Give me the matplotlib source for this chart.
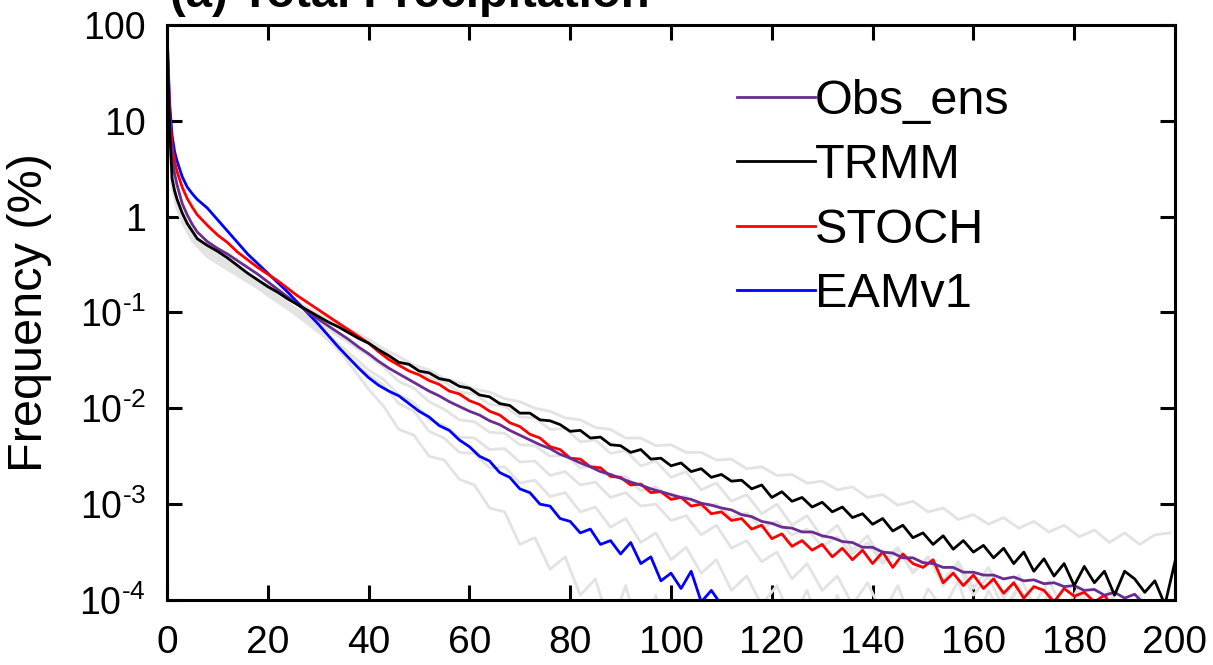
import numpy as np
import matplotlib
matplotlib.use("Agg")
import matplotlib.pyplot as plt
from matplotlib.ticker import FixedLocator, NullLocator

# ---------------- data (log10 of frequency in %) ----------------
# precipitation bins (mm/day)
bin_head = [0, 0.5, 1, 1.5, 2, 3, 4, 5, 6, 8, 10, 12, 14, 16, 18, 20, 22, 24,
            26, 28, 30, 32, 34, 36, 38, 40]
bin_tail = np.arange(42, 201, 2)

trmm_head = [1.85, 0.95, 0.40, 0.27, 0.18, 0.04, -0.07, -0.15, -0.23, -0.30,
             -0.36, -0.43, -0.51, -0.59, -0.66, -0.73, -0.79, -0.86, -0.92,
             -0.98, -1.04, -1.10, -1.15, -1.21, -1.27, -1.32]
trmm_tail = [-1.39, -1.45, -1.52, -1.54, -1.61, -1.63, -1.69, -1.71, -1.77, -1.79,
             -1.86, -1.88, -1.95, -1.97, -2.05, -2.05, -2.12, -2.13, -2.17, -2.24,
             -2.23, -2.31, -2.30, -2.38, -2.39, -2.46, -2.43, -2.53, -2.52, -2.60,
             -2.57, -2.66, -2.63, -2.72, -2.69, -2.76, -2.75, -2.84, -2.80, -2.93,
             -2.87, -2.97, -2.93, -3.03, -2.98, -3.08, -3.03, -3.14, -3.10, -3.21,
             -3.15, -3.28, -3.22, -3.35, -3.30, -3.42, -3.33, -3.47, -3.38, -3.50,
             -3.43, -3.56, -3.46, -3.62, -3.50, -3.70, -3.57, -3.75, -3.62, -3.85,
             -3.65, -3.82, -3.70, -3.95, -3.70, -3.78, -3.92, -3.80, -4.05, -3.60]

stoch_head = [1.95, 1.10, 0.75, 0.58, 0.47, 0.31, 0.19, 0.10, 0.02, -0.09,
              -0.19, -0.27, -0.37, -0.45, -0.53, -0.60, -0.67, -0.75, -0.83,
              -0.90, -0.97, -1.04, -1.11, -1.18, -1.25, -1.32]
stoch_tail = [-1.41, -1.49, -1.55, -1.61, -1.65, -1.71, -1.75, -1.82, -1.85, -1.92,
              -1.96, -2.03, -2.07, -2.15, -2.19, -2.27, -2.31, -2.40, -2.43, -2.52,
              -2.53, -2.61, -2.62, -2.71, -2.72, -2.80, -2.79, -2.88, -2.87, -2.95,
              -2.93, -3.02, -3.00, -3.10, -3.08, -3.17, -3.15, -3.26, -3.22, -3.36,
              -3.31, -3.44, -3.38, -3.48, -3.42, -3.55, -3.46, -3.58, -3.48, -3.62,
              -3.50, -3.66, -3.52, -3.62, -3.66, -3.58, -3.82, -3.72, -3.85, -3.74,
              -3.88, -3.78, -3.93, -3.82, -3.98, -3.86, -3.90, -4.02, -3.88, -3.96,
              -3.92, -4.02, -3.95, -4.10, -4.40]

obs_head = [1.85, 1.00, 0.62, 0.45, 0.33, 0.14, 0.02, -0.08, -0.16, -0.26,
            -0.33, -0.39, -0.46, -0.53, -0.60, -0.68, -0.76, -0.84, -0.92,
            -1.00, -1.07, -1.14, -1.21, -1.28, -1.36, -1.43]
obs_tail = [-1.51, -1.58, -1.64, -1.70, -1.76, -1.82, -1.87, -1.93, -1.98, -2.03,
            -2.07, -2.13, -2.17, -2.23, -2.28, -2.33, -2.38, -2.42, -2.48, -2.52,
            -2.57, -2.61, -2.66, -2.69, -2.73, -2.77, -2.80, -2.84, -2.87, -2.90,
            -2.93, -2.95, -2.99, -3.01, -3.04, -3.06, -3.11, -3.13, -3.18, -3.20,
            -3.24, -3.25, -3.29, -3.29, -3.33, -3.35, -3.39, -3.40, -3.45, -3.45,
            -3.50, -3.51, -3.56, -3.56, -3.61, -3.62, -3.66, -3.66, -3.71, -3.71,
            -3.74, -3.74, -3.78, -3.76, -3.80, -3.79, -3.83, -3.82, -3.86, -3.85,
            -3.90, -3.89, -3.95, -3.92, -3.98, -3.94, -4.05, -4.10]

eam_head = [1.95, 1.20, 0.85, 0.68, 0.58, 0.42, 0.31, 0.24, 0.18, 0.09,
            -0.03, -0.15, -0.27, -0.39, -0.49, -0.59, -0.69, -0.79, -0.90,
            -1.01, -1.12, -1.24, -1.36, -1.47, -1.58, -1.68]
eam_tail = [-1.76, -1.82, -1.87, -1.95, -2.03, -2.09, -2.18, -2.23, -2.33, -2.40,
            -2.50, -2.55, -2.67, -2.72, -2.84, -2.88, -3.00, -3.02, -3.15, -3.18,
            -3.30, -3.26, -3.42, -3.38, -3.52, -3.40, -3.62, -3.55, -3.80, -3.72,
            -3.88, -3.70, -4.02, -3.90, -4.05, -4.30]

# individual observational datasets (grey)
grey_bin_head = [0, 1, 2, 3, 5, 8, 12, 16, 20, 25, 30, 35, 40]
grey_bin_tail = np.arange(43, 200, 3)

grey1_head = [1.80, 0.38, 0.14, 0.00, -0.19, -0.34, -0.47, -0.61, -0.73, -0.87, -1.01, -1.14, -1.28]
grey1_tail = [-1.38, -1.46, -1.55, -1.60, -1.69, -1.73, -1.80, -1.83, -1.90, -1.93,
              -2.00, -2.03, -2.10, -2.12, -2.20, -2.22, -2.31, -2.31, -2.39, -2.38,
              -2.46, -2.46, -2.54, -2.53, -2.63, -2.61, -2.70, -2.69, -2.78, -2.76,
              -2.85, -2.82, -2.93, -2.90, -3.01, -2.97, -3.08, -3.04, -3.16, -3.11,
              -3.21, -3.14, -3.25, -3.18, -3.29, -3.22, -3.34, -3.27, -3.40, -3.30,
              -3.42, -3.32, -3.30]
grey2_head = [1.80, 0.42, 0.16, 0.02, -0.17, -0.33, -0.45, -0.60, -0.72, -0.88, -1.02, -1.16, -1.31]
grey2_tail = [-1.40, -1.52, -1.57, -1.68, -1.72, -1.83, -1.85, -1.96, -1.98, -2.09,
              -2.10, -2.22, -2.21, -2.35, -2.33, -2.47, -2.44, -2.60, -2.55, -2.72,
              -2.66, -2.85, -2.78, -2.97, -2.90, -3.10, -3.00, -3.22, -3.12, -3.35,
              -3.22, -3.48, -3.33, -3.60, -3.45, -3.72, -3.55, -3.85, -3.64, -3.95,
              -3.75, -4.10, -3.85, -4.20, -3.92, -4.30, -4.00, -4.40, -4.10, -4.50,
              -4.20, -4.60, -4.60]
grey3_head = [1.80, 0.42, 0.17, 0.03, -0.16, -0.33, -0.47, -0.62, -0.76, -0.94, -1.11, -1.28, -1.45]
grey3_tail = [-1.57, -1.72, -1.79, -1.93, -2.01, -2.12, -2.14, -2.25, -2.26, -2.38,
              -2.39, -2.50, -2.49, -2.62, -2.60, -2.72, -2.71, -2.86, -2.82, -2.93,
              -2.92, -3.04, -3.00, -3.14, -3.09, -3.25, -3.18, -3.32, -3.26, -3.44,
              -3.34, -3.52, -3.40, -3.62, -3.48, -3.70, -3.55, -3.80, -3.60, -3.88,
              -3.66, -3.98, -3.74, -4.05, -3.80, -4.12, -3.86, -4.20, -3.90, -4.25,
              -3.95, -4.30, -4.05]
grey4_head = [1.75, 0.36, 0.12, -0.02, -0.20, -0.36, -0.50, -0.64, -0.77, -0.95, -1.15, -1.37, -1.60]
grey4_tail = [-1.70, -1.86, -1.94, -2.12, -2.18, -2.30, -2.31, -2.43, -2.42, -2.56,
              -2.55, -2.70, -2.66, -2.80, -2.77, -2.93, -2.88, -3.02, -3.00, -3.17,
              -3.12, -3.32, -3.22, -3.46, -3.38, -3.60, -3.50, -3.78, -3.62, -3.90,
              -3.75, -4.05, -3.82, -4.15, -3.85, -4.25, -3.88, -4.10, -3.80, -4.30,
              -3.90, -4.20, -3.85, -4.40, -3.95, -4.30, -3.92, -4.50, -4.00, -4.40,
              -4.05, -4.60, -4.20]
grey5_head = [1.70, 0.33, 0.10, -0.04, -0.22, -0.38, -0.52, -0.67, -0.82, -1.00, -1.20, -1.42, -1.65]
grey5_tail = [-1.76, -1.95, -2.03, -2.24, -2.31, -2.46, -2.47, -2.62, -2.61, -2.78,
              -2.75, -2.92, -2.88, -3.08, -3.03, -3.24, -3.15, -3.40, -3.30, -3.58,
              -3.45, -3.72, -3.58, -3.90, -3.75, -4.05, -3.85, -4.20, -3.90, -4.35,
              -3.95, -4.40, -4.00, -4.50, -4.05, -4.60, -4.10, -4.70, -4.20, -4.80,
              -4.30, -4.90, -4.40, -5.00]
grey6_head = [1.70, 0.33, 0.08, -0.06, -0.25, -0.42, -0.55, -0.68, -0.80, -0.98, -1.18, -1.45, -1.80]
grey6_tail = [-1.98, -2.22, -2.28, -2.50, -2.54, -2.74, -2.80, -3.04, -3.08, -3.42,
              -3.35, -3.68, -3.55, -3.95, -3.78, -4.30, -3.85, -4.40, -3.95, -4.50,
              -4.60, -5.00]

legend_labels = ["Obs_ens", "TRMM", "STOCH", "EAMv1"]
x_ticks = [0, 20, 40, 60, 80, 100, 120, 140, 160, 180, 200]
y_ticks = [1e-4, 1e-3, 1e-2, 1e-1, 1, 10, 100]
y_tick_labels = ["$\\mathregular{10^{\u2010" + "4}}$", "$\\mathregular{10^{\u2010" + "3}}$",
                 "$\\mathregular{10^{\u2010" + "2}}$", "$\\mathregular{10^{\u2010" + "1}}$",
                 "1", "10", "100"]
title_text = "(a) Total Precipitation"
y_label = "Frequency (%)"

# ---------------- styling ----------------
plt.rcParams["font.family"] = ["Liberation Sans", "DejaVu Sans"]
plt.rcParams["mathtext.fontset"] = "custom"
plt.rcParams["mathtext.rm"] = "Liberation Sans"
plt.rcParams["mathtext.it"] = "Liberation Sans:italic"
plt.rcParams["mathtext.bf"] = "Liberation Sans:bold"

W, H = 1213, 665
fig = plt.figure(figsize=(W / 100, H / 100), dpi=100)
ax = fig.add_axes([167 / W, 1 - 600 / H, (1175 - 167) / W, (600 - 25) / H])


def series(xh, xt, yh, yt):
    x = np.concatenate([np.asarray(xh, float), np.asarray(xt, float)[:len(yt)]])
    y = 10.0 ** np.concatenate([np.asarray(yh, float), np.asarray(yt, float)])
    return x, y


grey_col = "#E3E3E3"
for gh, gt in [(grey1_head, grey1_tail), (grey2_head, grey2_tail),
               (grey3_head, grey3_tail), (grey4_head, grey4_tail),
               (grey5_head, grey5_tail), (grey6_head, grey6_tail)]:
    gx, gy = series(grey_bin_head, grey_bin_tail, gh, gt)
    ax.plot(gx, gy, color=grey_col, lw=2.0, solid_joinstyle="round")

lw = 2.0
x, y = series(bin_head, bin_tail, eam_head, eam_tail)
l_eam, = ax.plot(x, y, color="#0000FF", lw=lw)
x, y = series(bin_head, bin_tail, stoch_head, stoch_tail)
l_stoch, = ax.plot(x, y, color="#FF0000", lw=lw)
x, y = series(bin_head, bin_tail, obs_head, obs_tail)
l_obs, = ax.plot(x, y, color="#6B2C91", lw=lw)
x, y = series(bin_head, bin_tail, trmm_head, trmm_tail)
l_trmm, = ax.plot(x, y, color="#000000", lw=lw)

ax.set_yscale("log")
ax.set_xlim(0, 200)
ax.set_ylim(1e-4, 100)

ax.xaxis.set_major_locator(FixedLocator(x_ticks))
ax.xaxis.set_minor_locator(NullLocator())
ax.set_yticks(y_ticks)
ax.set_yticklabels(y_tick_labels)
ax.yaxis.set_minor_locator(NullLocator())

ax.tick_params(axis="both", which="major", direction="in", length=11, width=2.2,
               top=True, right=True, color="black")
ax.tick_params(axis="x", labelsize=28, pad=18)
ax.tick_params(axis="y", labelsize=27, pad=15)
for s in ax.spines.values():
    s.set_linewidth(2.2)

ax.set_ylabel(y_label, fontsize=35)
ax.yaxis.set_label_coords(-0.114, 0.5)

fig.text(170 / W, 1 - 7 / H, title_text, fontsize=34, fontweight="bold",
         ha="left", va="baseline")

leg = ax.legend([l_obs, l_trmm, l_stoch, l_eam], legend_labels,
                loc="upper left", bbox_to_anchor=(0.5655, 0.906),
                frameon=False, fontsize=35, handlelength=1.6,
                handletextpad=0.0, labelspacing=0.4, borderpad=0.0,
                borderaxespad=0.0)

fig.savefig("out.png", dpi=100)
